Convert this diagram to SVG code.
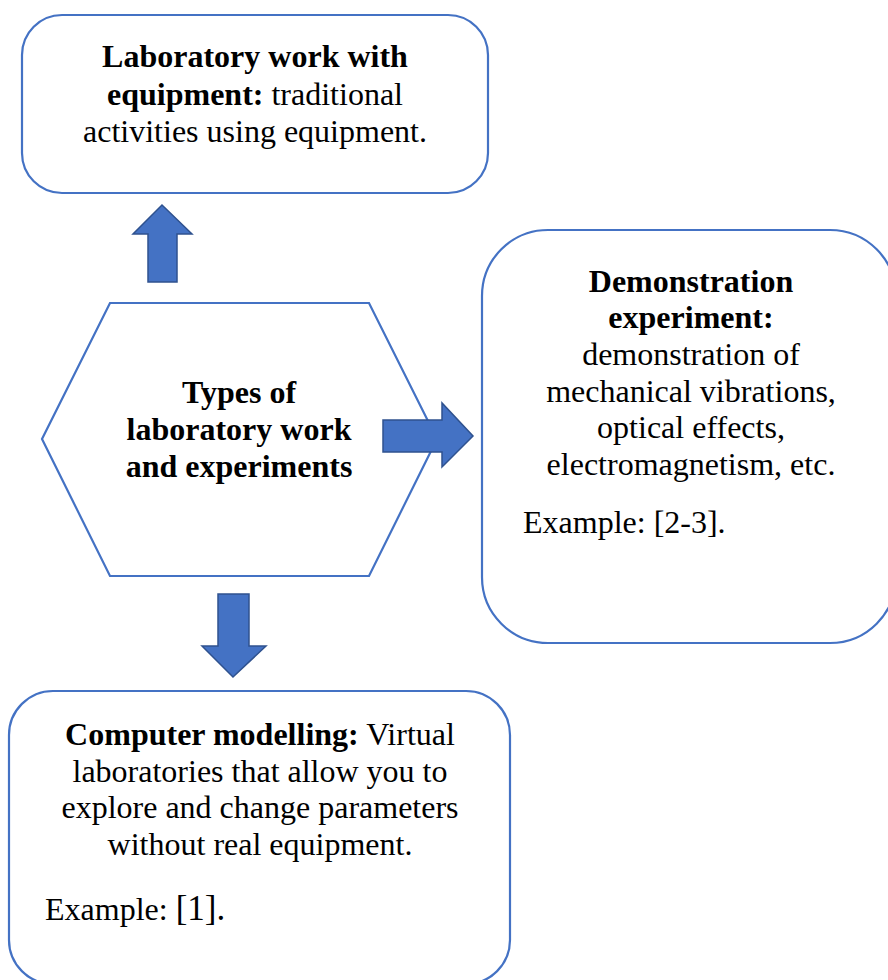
<svg xmlns="http://www.w3.org/2000/svg" width="888" height="980" viewBox="0 0 888 980">
<style>
.box{fill:#fff;stroke:#4472C4;stroke-width:2.2}
.arr{fill:#4472C4;stroke:#2F528F;stroke-width:1.5}
.c{text-anchor:middle}
.b{font-weight:bold}
</style>
<rect width="888" height="980" fill="#fff"/>
<g font-family="Liberation Serif" font-size="32" fill="#000">
<g id="node-lab">
<rect class="box" x="22" y="15" width="466" height="178" rx="40"/>
<text class="c" x="255" y="67"><tspan class="b">Laboratory work with</tspan></text>
<text class="c" x="255" y="105"><tspan class="b">equipment:</tspan> traditional</text>
<text class="c" x="255" y="142">activities using equipment.</text>
</g>
<g id="node-types">
<polygon class="box" points="42,439 110,303 369,303 437,439 369,576 110,576"/>
<text class="c b" x="239" y="403">Types of</text>
<text class="c b" x="239" y="440">laboratory work</text>
<text class="c b" x="239" y="477">and experiments</text>
</g>
<g id="node-demo">
<rect class="box" x="482" y="230" width="414" height="413" rx="66"/>
<text class="c b" x="691" y="292">Demonstration</text>
<text class="c b" x="691" y="328">experiment:</text>
<text class="c" x="691" y="365">demonstration of</text>
<text class="c" x="691" y="402">mechanical vibrations,</text>
<text class="c" x="691" y="438">optical effects,</text>
<text class="c" x="691" y="475">electromagnetism, etc.</text>
<text x="523" y="533">Example: [2-3].</text>
</g>
<g id="node-comp">
<rect class="box" x="9" y="691" width="501" height="293" rx="44"/>
<text class="c" x="260" y="745"><tspan class="b">Computer modelling:</tspan> Virtual</text>
<text class="c" x="260" y="782">laboratories that allow you to</text>
<text class="c" x="260" y="818">explore and change parameters</text>
<text class="c" x="260" y="855">without real equipment.</text>
<text x="45" y="920">Example: <tspan font-size="35">[1].</tspan></text>
</g>
</g>
<g id="connectors">
<polygon class="arr" points="148,282 148,234 133,234 162,205 192,234 177,234 177,282"/>
<polygon class="arr" points="383,420 442,420 442,403 473,436 442,467 442,452 383,452"/>
<polygon class="arr" points="218,594 249,594 249,646 266,646 233,677 202,646 218,646"/>
</g>
</svg>
